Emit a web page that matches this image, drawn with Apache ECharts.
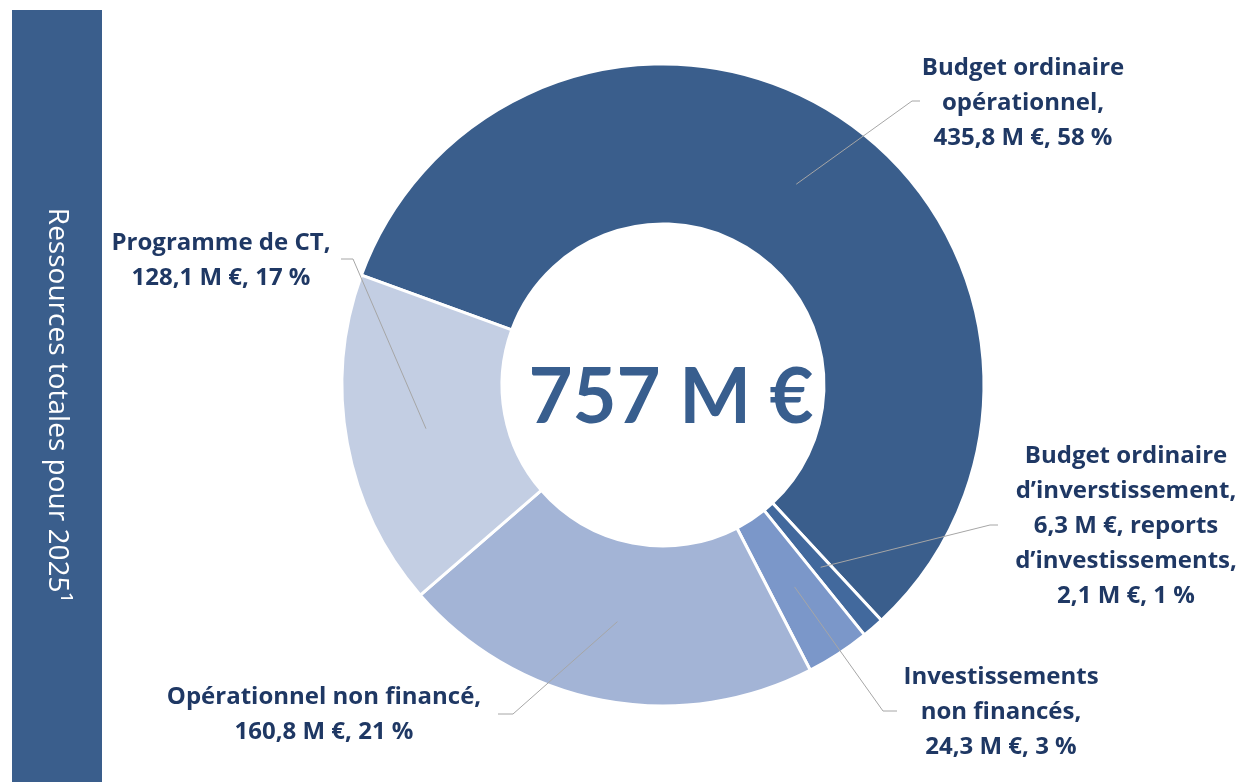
<!DOCTYPE html>
<html>
<head>
<meta charset="utf-8">
<script src="https://cdn.jsdelivr.net/npm/echarts@6/dist/echarts.min.js"></script>
<style>
  html, body { margin: 0; padding: 0; background: #fff; }
  #chart { width: 1237px; height: 782px; }
</style>
</head>
<body>
<div id="chart"></div>
<script>
// data
var names = ['Budget ordinaire opérationnel', 'Budget ordinaire d\u2019investissement', 'Investissements non financés', 'Opérationnel non financé', 'Programme de CT'];
var values = [435.8, 8.4, 24.3, 160.8, 128.1];
var labels = [
  'Budget ordinaire\nopérationnel,\n435,8 M €, 58 %',
  'Budget ordinaire\nd\u2019inverstissement,\n6,3 M €, reports\nd\u2019investissements,\n2,1 M €, 1 %',
  'Investissements\nnon financés,\n24,3 M €, 3 %',
  'Opérationnel non financé,\n160,8 M €, 21 %',
  'Programme de CT,\n128,1 M €, 17 %'
];
var colors = ['#3A5E8C', '#42699D', '#7B97C9', '#A3B4D6', '#C3CEE3'];
var totalText = '757 M €';
var sideText = 'Ressources totales pour 2025\u00B9';

// label placement: text center, elbow, end of leader line
var labelPos = [
  { x: 1023, y: 103, elbow: [912, 101], end: [920, 101] },
  { x: 1126, y: 526, elbow: [990, 525], end: [998, 525] },
  { x: 1001, y: 712, elbow: [883, 711], end: [897, 711] },
  { x: 324, y: 715, elbow: [513, 714], end: [498, 714] },
  { x: 221, y: 261, elbow: [353, 259], end: [341, 259] }
];

var center = [663, 385];

var dom = document.getElementById('chart');
var myChart = echarts.init(dom, null, { renderer: 'canvas' });

var pieData = names.map(function (n, i) {
  return { name: n, value: values[i], itemStyle: { color: colors[i] } };
});
var labelData = names.map(function (n, i) {
  return { name: n, value: values[i], label: { formatter: labels[i] } };
});

var option = {
  animation: false,
  graphic: [
    {
      type: 'rect',
      shape: { x: 12, y: 10, width: 90, height: 772 },
      style: { fill: '#3A5E8C' },
      silent: true
    },
    {
      type: 'text',
      x: 57,
      y: 405,
      rotation: -Math.PI / 2,
      style: {
        text: sideText,
        fill: '#ffffff',
        font: '28px "Open Sans"',
        align: 'center',
        verticalAlign: 'middle'
      },
      silent: true
    },
    {
      type: 'text',
      x: 671,
      y: 398,
      z: 100,
      style: {
        text: totalText,
        fill: '#385E8E',
        font: 'bold 76px Lato',
        align: 'center',
        verticalAlign: 'middle'
      },
      silent: true
    }
  ],
  series: [
    {
      type: 'pie',
      center: center,
      radius: [161, 321],
      startAngle: 160,
      clockwise: true,
      silent: true,
      label: { show: false },
      labelLine: { show: false },
      itemStyle: { borderColor: '#ffffff', borderWidth: 3 },
      data: pieData
    },
    {
      // invisible pie used only to anchor labels in the middle of the ring
      type: 'pie',
      center: center,
      radius: [0, 241],
      startAngle: 160,
      clockwise: true,
      silent: true,
      z: 5,
      avoidLabelOverlap: false,
      itemStyle: { color: 'rgba(0,0,0,0)' },
      label: {
        show: true,
        position: 'outside',
        color: '#1F3864',
        fontFamily: 'Open Sans',
        fontWeight: 'bold',
        fontSize: 24,
        lineHeight: 35,
        align: 'center'
      },
      labelLine: {
        show: true,
        length: 20,
        length2: 10,
        lineStyle: { color: '#A6A6A6', width: 1 }
      },
      labelLayout: function (params) {
        var p = labelPos[params.dataIndex];
        var start = params.labelLinePoints ? params.labelLinePoints[0] : p.elbow;
        return {
          x: p.x,
          y: p.y,
          align: 'center',
          verticalAlign: 'middle',
          labelLinePoints: [start, p.elbow, p.end]
        };
      },
      data: labelData
    }
  ]
};

myChart.setOption(option);
window.addEventListener('resize', myChart.resize);
</script>
</body>
</html>
